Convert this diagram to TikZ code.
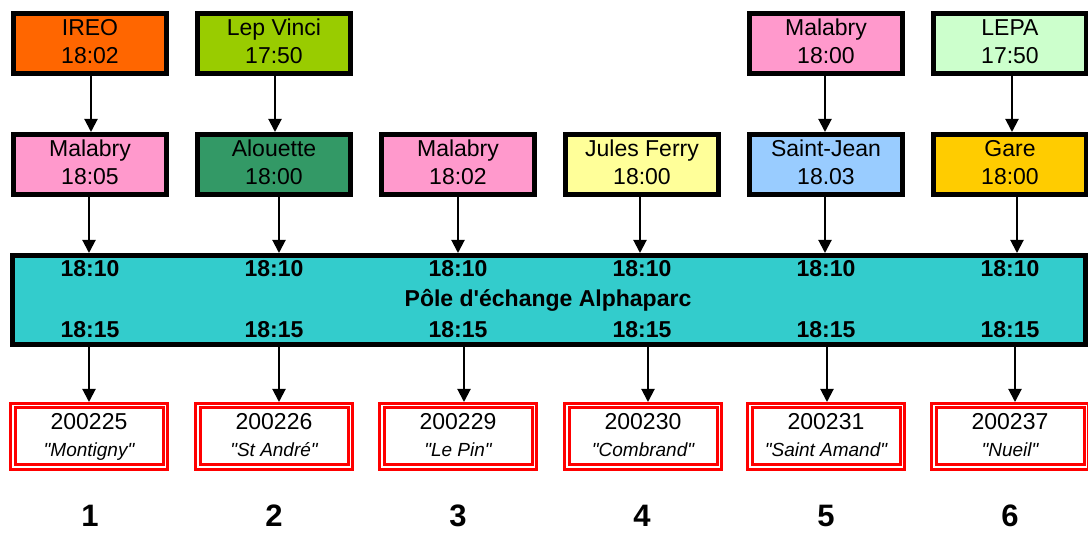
\documentclass[tikz,border=0pt]{standalone}
\usepackage{fontspec}
\setmainfont{Liberation Sans}[Ligatures=TeXOff]
\usetikzlibrary{arrows.meta}
\definecolor{cOrange}{HTML}{FF6600}
\definecolor{cLime}{HTML}{99CC00}
\definecolor{cPink}{HTML}{FF99CC}
\definecolor{cGreen}{HTML}{339966}
\definecolor{cYellow}{HTML}{FFFF99}
\definecolor{cBlue}{HTML}{99CCFF}
\definecolor{cGold}{HTML}{FFCC00}
\definecolor{cMint}{HTML}{CCFFCC}
\definecolor{cTeal}{HTML}{33CCCC}
\begin{document}
\begin{tikzpicture}[x=1pt,y=-1pt,
  box/.style={draw=black,line width=5pt,minimum width=153pt,minimum height=60pt,inner sep=0pt},
  dest/.style={draw=red,double=white,double distance=1.5pt,line width=3pt,minimum width=152.5pt,minimum height=61.5pt,inner sep=0pt,outer sep=3.75pt,fill=white},
  txt/.style={anchor=base,inner sep=0pt,font=\fontsize{23}{28}\selectfont},
  btxt/.style={anchor=base,inner sep=0pt,font=\fontsize{23}{28}\selectfont\bfseries},
  itxt/.style={anchor=base,inner sep=0pt,font=\fontsize{19}{23}\selectfont\itshape},
  num/.style={anchor=base,inner sep=0pt,font=\fontsize{31}{37}\selectfont\bfseries},
  arr/.style={line width=2pt,-{Triangle[length=13pt,width=13pt]}}]
\useasboundingbox (0,0) rectangle (1088,534);

% top row
\node[box,fill=cOrange] (t1) at (90,43.5) {};
\node[box,fill=cLime]   (t2) at (274,43.5) {};
\node[box,fill=cPink]   (t5) at (826,43.5) {};
\node[box,fill=cMint]   (t6) at (1010,43.5) {};
\node[txt] (t1a) at (90,36) {IREO};        \node[txt] (t1b) at (90,64) {18:02};
\node[txt] (t2a) at (274,36) {Lep Vinci};  \node[txt] (t2b) at (274,64) {17:50};
\node[txt] (t5a) at (826,36) {Malabry};    \node[txt] (t5b) at (826,64) {18:00};
\node[txt] (t6a) at (1010,36) {LEPA};      \node[txt] (t6b) at (1010,64) {17:50};

% second row
\node[box,fill=cPink]   (m1) at (90,164.5) {};
\node[box,fill=cGreen]  (m2) at (274,164.5) {};
\node[box,fill=cPink]   (m3) at (458,164.5) {};
\node[box,fill=cYellow] (m4) at (642,164.5) {};
\node[box,fill=cBlue]   (m5) at (826,164.5) {};
\node[box,fill=cGold]   (m6) at (1010,164.5) {};
\node[txt] (m1a) at (90,157) {Malabry};      \node[txt] (m1b) at (90,185) {18:05};
\node[txt] (m2a) at (274,157) {Alouette};    \node[txt] (m2b) at (274,185) {18:00};
\node[txt] (m3a) at (458,157) {Malabry};     \node[txt] (m3b) at (458,185) {18:02};
\node[txt] (m4a) at (642,157) {Jules Ferry}; \node[txt] (m4b) at (642,185) {18:00};
\node[txt] (m5a) at (826,157) {Saint-Jean};  \node[txt] (m5b) at (826,185) {18.03};
\node[txt] (m6a) at (1010,157) {Gare};       \node[txt] (m6b) at (1010,185) {18:00};

% bar
\node[draw=black,line width=5pt,fill=cTeal,minimum width=1073pt,minimum height=89pt,inner sep=0pt] (bar) at (549,300) {};
\foreach \i/\x in {1/90,2/274,3/458,4/642,5/826,6/1010}{
  \node[btxt] (a\i) at (\x,277) {18:10};
  \node[btxt] (d\i) at (\x,338) {18:15};
}
\node[btxt] (pole) at (548,307) {Pôle d'échange Alphaparc};

% destination boxes
\node[dest] (b1) at (89,436.5) {};
\node[dest] (b2) at (274,436.5) {};
\node[dest] (b3) at (458,436.5) {};
\node[dest] (b4) at (643,436.5) {};
\node[dest] (b5) at (826,436.5) {};
\node[dest] (b6) at (1010,436.5) {};
\node[txt] (b1a) at (89,430) {200225};  \node[itxt] (b1b) at (89,457) {"Montigny"};
\node[txt] (b2a) at (274,430) {200226}; \node[itxt] (b2b) at (274,457) {"St André"};
\node[txt] (b3a) at (458,430) {200229}; \node[itxt] (b3b) at (458,457) {"Le Pin"};
\node[txt] (b4a) at (643,430) {200230}; \node[itxt] (b4b) at (643,457) {"Combrand"};
\node[txt] (b5a) at (826,430) {200231}; \node[itxt] (b5b) at (826,457) {"Saint Amand"};
\node[txt] (b6a) at (1010,430) {200237};\node[itxt] (b6b) at (1010,457) {"Nueil"};

% numbers
\foreach \i/\x in {1/90,2/274,3/458,4/642,5/826,6/1010}{
  \node[num] (n\i) at (\x,527) {\i};
}

% arrows top -> second row
\draw[arr] ([xshift=1pt]t1.south) -- ([xshift=1pt]m1.north);
\draw[arr] ([xshift=1pt]t2.south) -- ([xshift=1pt]m2.north);
\draw[arr] ([xshift=-1pt]t5.south) -- ([xshift=-1pt]m5.north);
\draw[arr] ([xshift=2pt]t6.south) -- ([xshift=2pt]m6.north);

% arrows second row -> bar
\foreach \i/\s in {1/-1,2/5,3/0,4/-2,5/-1,6/7}{
  \draw[arr] ([xshift=\s pt]m\i.south) -- ([xshift=\s pt]m\i.south |- bar.north);
}
% arrows bar -> destinations
\foreach \i/\s in {1/0,2/5,3/6,4/5,5/1,6/5}{
  \draw[arr] ([xshift=\s pt]b\i.north |- bar.south) -- ([xshift=\s pt]b\i.north);
}
\end{tikzpicture}
\end{document}
